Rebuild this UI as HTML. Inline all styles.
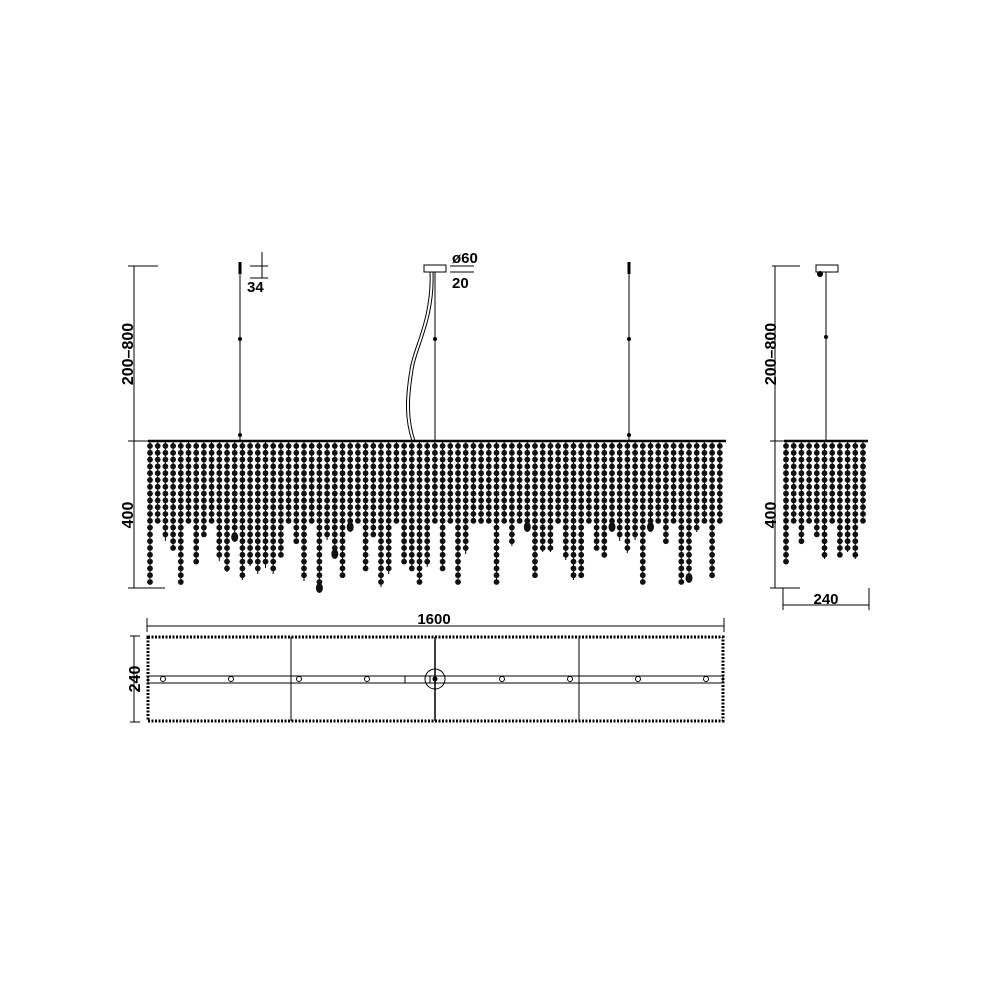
<!DOCTYPE html>
<html><head><meta charset="utf-8"><style>
html,body{margin:0;padding:0;background:#fff;width:1000px;height:1000px;overflow:hidden}
svg{display:block}
text{font-family:"Liberation Sans",sans-serif;font-weight:bold;fill:#000}
</style></head><body>
<svg id="s" width="1000" height="1000" viewBox="0 0 1000 1000" xmlns="http://www.w3.org/2000/svg">
<g stroke="#000" stroke-width="1" fill="none">
<line x1="128" y1="266" x2="158" y2="266"/>
<line x1="134" y1="266" x2="134" y2="588"/>
<line x1="128" y1="441" x2="150" y2="441"/>
<line x1="128" y1="588" x2="165" y2="588"/>
<line x1="240" y1="262" x2="240" y2="441"/>
<line x1="629" y1="262" x2="629" y2="441"/>
<line x1="435" y1="272" x2="435" y2="441"/>
<line x1="250" y1="266" x2="268" y2="266"/><line x1="250" y1="278" x2="268" y2="278"/>
<line x1="262" y1="252" x2="262" y2="278"/>
<rect x="424" y="265" width="22" height="7" fill="#fff"/>
<line x1="450" y1="266" x2="474" y2="266"/><line x1="450" y1="272" x2="474" y2="272"/>
<path d="M430 272 C432 320 412 350 410 370 C405 400 405 420 412 441"/>
<path d="M433 272 C435 320 415 350 413 370 C408 400 408 420 415 441"/>
<line x1="772" y1="266" x2="800" y2="266"/>
<line x1="775" y1="266" x2="775" y2="588"/>
<line x1="770" y1="441" x2="790" y2="441"/>
<line x1="770" y1="588" x2="800" y2="588"/>
<rect x="816" y="265" width="22" height="7"/>
<line x1="826" y1="272" x2="826" y2="441"/>
<line x1="783" y1="588" x2="783" y2="610"/><line x1="869" y1="588" x2="869" y2="610"/>
<line x1="783" y1="605" x2="869" y2="605"/>
<line x1="147" y1="618" x2="147" y2="632"/><line x1="724" y1="618" x2="724" y2="632"/>
<line x1="147" y1="626" x2="724" y2="626"/>
<line x1="134" y1="636" x2="134" y2="722"/>
<line x1="130" y1="636" x2="140" y2="636"/><line x1="130" y1="722" x2="140" y2="722"/>
<rect x="148" y="637" width="575" height="84" stroke-width="3" stroke-dasharray="2 1.5"/>
<line x1="291" y1="637" x2="291" y2="721"/>
<line x1="435" y1="637" x2="435" y2="721" stroke-width="1.5"/>
<line x1="579" y1="637" x2="579" y2="721"/>
<rect x="148" y="676" width="575" height="7"/>
<rect x="405" y="676" width="25" height="7" fill="#fff"/>
<circle cx="435" cy="679" r="10"/>
</g>
<g id="beads"></g>
<text x="0" y="0" font-size="16" transform="translate(133,354) rotate(-90)" text-anchor="middle">200–800</text>
<text x="0" y="0" font-size="16" transform="translate(133,515) rotate(-90)" text-anchor="middle">400</text>
<text x="0" y="0" font-size="16" transform="translate(776,354) rotate(-90)" text-anchor="middle">200–800</text>
<text x="0" y="0" font-size="16" transform="translate(776,515) rotate(-90)" text-anchor="middle">400</text>
<text x="0" y="0" font-size="16" transform="translate(140,679) rotate(-90)" text-anchor="middle">240</text>
<text x="247" y="292" font-size="15">34</text>
<text x="452" y="263" font-size="15">ø60</text>
<text x="452" y="288" font-size="15">20</text>
<text x="434" y="624" font-size="15" text-anchor="middle">1600</text>
<text x="826" y="604" font-size="15" text-anchor="middle">240</text>
</svg>
<script>
var g=document.getElementById('beads'),h='';
var seed=11;function r(){seed=(seed*9301+49297)%233280;return seed/233280;}
function strands(x0,x1,step){
 h+='<line x1="'+(x0-2)+'" y1="441" x2="'+(x1+2)+'" y2="441" stroke="#000" stroke-width="2.5"/>';
 for(var x=x0;x<=x1;x+=step){
  var v=r(),len;
  if(v<0.35)len=522; else len=530+Math.floor(r()*58);
  h+='<line x1="'+x.toFixed(1)+'" y1="441" x2="'+x.toFixed(1)+'" y2="'+len+'" stroke="#000" stroke-width="1"/>';
  for(var y=446;y<=len;y+=6.8){h+='<circle cx="'+x.toFixed(1)+'" cy="'+y.toFixed(1)+'" r="2.9" fill="#111"/>';}
  if(r()<0.08)h+='<ellipse cx="'+x.toFixed(1)+'" cy="'+(len+5)+'" rx="3.5" ry="5" fill="#111"/>';
 }
}
strands(150,724,7.7);
strands(786,866,7.7);
[163,231,299,367,502,570,638,706].forEach(function(x){h+='<circle cx="'+x+'" cy="679" r="2.5" fill="#fff" stroke="#000"/>';});
h+='<circle cx="435" cy="679" r="2.5" fill="#000"/>';
[240,629].forEach(function(x){h+='<rect x="'+(x-1.5)+'" y="262" width="3" height="12" fill="#000"/><circle cx="'+x+'" cy="339" r="2" fill="#000"/><circle cx="'+x+'" cy="435" r="2" fill="#000"/>';});
h+='<circle cx="435" cy="339" r="2" fill="#000"/><circle cx="826" cy="337" r="2" fill="#000"/><circle cx="820" cy="274" r="3" fill="#000"/>';
g.innerHTML=h;
</script>
</body></html>
